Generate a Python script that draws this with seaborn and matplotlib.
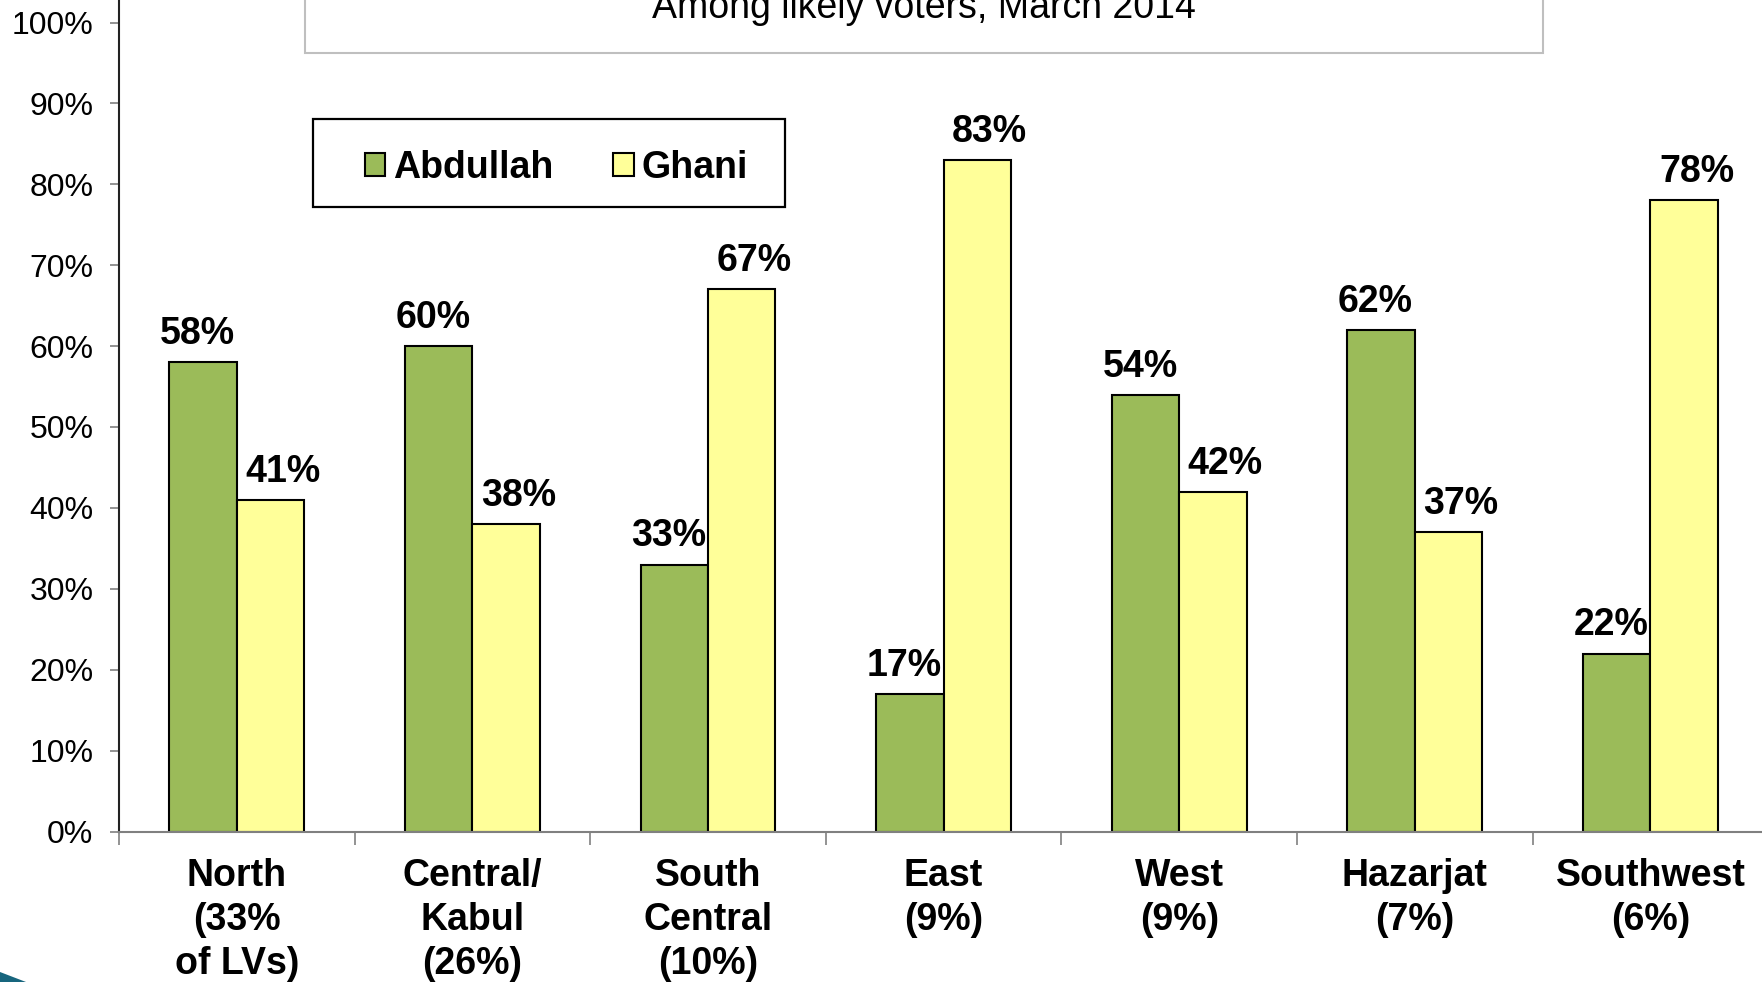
##################### Modules and Libraries #####################
import pandas as pd
import seaborn as sns
import matplotlib.pyplot as plt
import matplotlib.patches as mpatches
#################################################################

##################### Data ######################################
regions = ["North\n(33%\nof LVs)", "Central/\nKabul\n(26%)", "South\nCentral\n(10%)",
           "East\n(9%)", "West\n(9%)", "Hazarjat\n(7%)", "Southwest\n(6%)"]
abdullah = [58, 60, 33, 17, 54, 62, 22]
ghani = [41, 38, 67, 83, 42, 37, 78]
candidates = ["Abdullah", "Ghani"]
colors = {"Abdullah": "#9BBB59", "Ghani": "#FFFF99"}
yticks = list(range(0, 101, 10))
subtitle = "Among likely voters, March 2014"

df = pd.DataFrame({
    "region": regions * 2,
    "candidate": ["Abdullah"] * len(regions) + ["Ghani"] * len(regions),
    "share": abdullah + ghani,
})

##################### Style #####################################
sns.set_theme(style="white")
plt.rcParams["font.family"] = ["Liberation Sans", "DejaVu Sans"]
plt.rcParams["text.color"] = "black"
plt.rcParams["xtick.labelcolor"] = "black"
plt.rcParams["ytick.labelcolor"] = "black"

fig = plt.figure(figsize=(17.62, 9.82), dpi=100)
ax = fig.add_axes([119 / 1762, 1 - 831.5 / 982, 1 - 119 / 1762, 831.5 / 982])

##################### Bars ######################################
sns.barplot(data=df, x="region", y="share", hue="candidate", order=regions,
            hue_order=candidates, palette=colors, width=0.572, saturation=1,
            edgecolor="black", linewidth=1.5, legend=False, ax=ax)

# value labels, nudged apart a little like the original slide
nudge = {"Abdullah": -4, "Ghani": 9}
for cont, cand in zip(ax.containers, candidates):
    for bar in cont:
        h = bar.get_height()
        ax.annotate(f"{h:.0f}%", xy=(bar.get_x() + bar.get_width() / 2, h),
                    xytext=(nudge[cand], 13), textcoords="offset points",
                    ha="center", va="baseline", fontsize=27, fontweight="bold")

##################### Axes ######################################
ax.set_ylim(0, 100 * 831.5 / (831.5 - 22.5))
ax.set_xlim(-0.5, -0.5 + 1643 / 235.6)
ax.set_yticks(yticks)
ax.set_yticklabels([f"{t}%" for t in yticks])
ax.set_xlabel("")
ax.set_ylabel("")

ax.set_xticks(range(len(regions)))
ax.set_xticklabels(regions, fontsize=27, fontweight="bold", linespacing=1.28)
ax.set_xticks([i - 0.5 for i in range(len(regions))], minor=True)
ax.tick_params(axis="x", which="major", length=0, pad=19)
ax.tick_params(axis="x", which="minor", bottom=True, length=9, width=1.2, color="#808080")
ax.tick_params(axis="y", left=True, length=6.5, width=1.2, color="#808080",
               labelsize=23, pad=12)

sns.despine(ax=ax)
ax.spines["left"].set_color("#222222")
ax.spines["left"].set_linewidth(1.5)
ax.spines["bottom"].set_color("#808080")
ax.spines["bottom"].set_linewidth(1.5)

##################### Title box and legend ######################
fig.patches.append(mpatches.Rectangle((305 / 1762, 1 - 53 / 982), 1238 / 1762, 0.2,
                                      transform=fig.transFigure, facecolor="white",
                                      edgecolor="#BFBFBF", linewidth=1.5, zorder=0))
fig.text(924 / 1762, 1 - 18 / 982, subtitle, ha="center", va="baseline", fontsize=27)

fig.patches.append(mpatches.Rectangle((313 / 1762, 1 - 207 / 982), 472 / 1762, 88 / 982,
                                      transform=fig.transFigure, facecolor="none",
                                      edgecolor="black", linewidth=1.6, zorder=0))
handles = [mpatches.Patch(facecolor=colors[c], edgecolor="black", linewidth=1.5, label=c)
           for c in candidates]
fig.legend(handles=handles, ncol=2, loc="center", frameon=False,
           bbox_to_anchor=(556 / 1762, 1 - 167.5 / 982),
           prop={"size": 27, "weight": "bold"}, handlelength=0.55, handleheight=0.55,
           handletextpad=0.2, columnspacing=1.6)

##################### Corner swoosh #############################
fig.patches.append(mpatches.Polygon([(0, 0), (0, 10 / 982), (26 / 1762, 0)], closed=True,
                                    transform=fig.transFigure, facecolor="#17657D",
                                    edgecolor="none"))

plt.savefig("out.png", dpi=100)
